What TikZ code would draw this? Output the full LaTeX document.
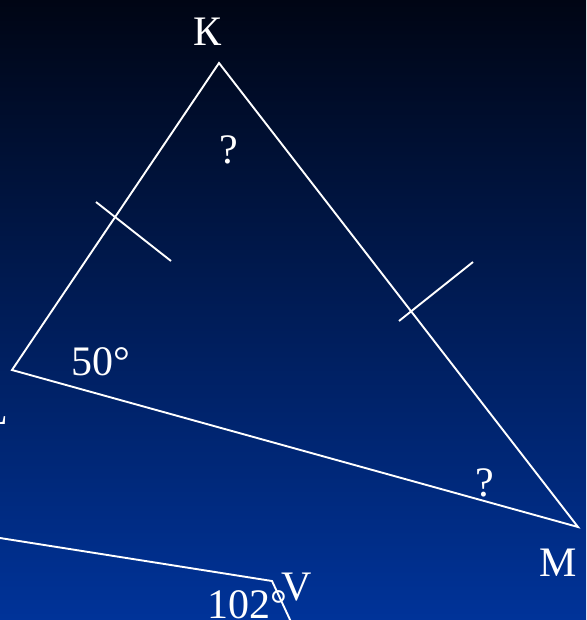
\documentclass[tikz,border=0pt]{standalone}
\usepackage{fontspec}
\setmainfont{Liberation Serif}
\usetikzlibrary{positioning}
\definecolor{bgtop}{RGB}{0,5,20}
\definecolor{bgbottom}{RGB}{0,51,153}

\begin{document}
\begin{tikzpicture}[x=1pt, y=-1pt,
    side/.style={draw=white, line width=1.9pt},
    lbl/.style={text=white, font=\fontsize{42}{48}\selectfont, inner sep=0pt}
]
    % Background
    \clip (0,0) rectangle (586,620);
    \fill[top color=bgtop, bottom color=bgbottom] (0,0) rectangle (586,620);

    % Vertices
    \coordinate (K) at (219,63);
    \coordinate (L) at (12,370);
    \coordinate (M) at (578,527);
    \coordinate (V) at (272,581);
    \coordinate (vleft) at (0,538);
    \coordinate (vdown) at (292,624);

    % Triangle
    \draw[side, line join=miter] (K) -- (L) -- (M) -- cycle;

    % Equal-side ticks
    \coordinate (tkl1) at (96,202);
    \coordinate (tkl2) at (171,261);
    \coordinate (tkm1) at (399,321);
    \coordinate (tkm2) at (473,262);
    \draw[side] (tkl1) -- (tkl2);
    \draw[side] (tkm1) -- (tkm2);

    % Second figure
    \draw[side] (vleft) -- (V) -- (vdown);

    % Labels
    \node[lbl] (labK) at (208,32) {К};
    \node[lbl] (angK) at (229,150) {?};
    \node[lbl, anchor=base east] (labL) at (8,424) {L};
    \node[lbl] (angL) at (101,362) {50°};
    \node[lbl] (angM) at (485,483) {?};
    \node[lbl] (labM) at (558,563) {M};
    \node[lbl, anchor=base west] (angV) at (207,618) {102°};
    \node[lbl] (labV) at (297,587) {V};
\end{tikzpicture}
\end{document}
